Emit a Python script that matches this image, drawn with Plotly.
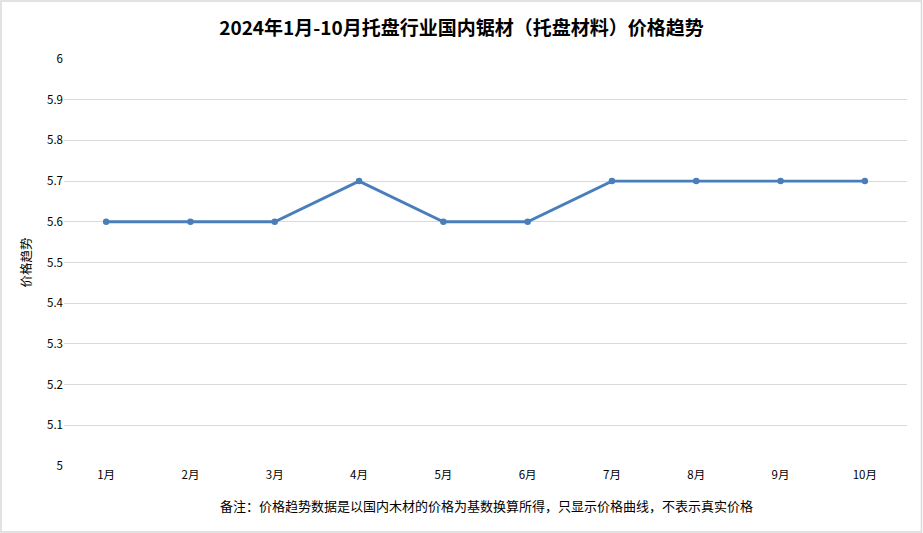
import plotly.graph_objects as go

months = ["1月", "2月", "3月", "4月", "5月", "6月", "7月", "8月", "9月", "10月"]
prices = [5.6, 5.6, 5.6, 5.7, 5.6, 5.6, 5.7, 5.7, 5.7, 5.7]
y_ticks = [5, 5.1, 5.2, 5.3, 5.4, 5.5, 5.6, 5.7, 5.8, 5.9, 6]
y_labels = ["5", "5.1", "5.2", "5.3", "5.4", "5.5", "5.6", "5.7", "5.8", "5.9", "6"]

title_text = "2024年1月-10月托盘行业国内锯材（托盘材料）价格趋势"
note_text = "备注：价格趋势数据是以国内木材的价格为基数换算所得，只显示价格曲线，不表示真实价格"
font = "Noto Sans CJK SC"

fig = go.Figure()
fig.add_trace(go.Scatter(
    x=months, y=prices, mode="lines+markers",
    line=dict(color="#4A7EBB", width=2.9),
    marker=dict(color="#4A7EBB", size=6.5),
    hoverinfo="x+y",
))

fig.update_layout(
    width=923, height=533,
    margin=dict(l=64, r=16, t=59, b=67),
    paper_bgcolor="white", plot_bgcolor="white",
    showlegend=False,
    font=dict(family=font, color="#000000", size=11.5),
    title=dict(text="<b>" + title_text + "</b>", x=0.5, xanchor="center",
               y=1 - 28 / 533, yanchor="middle",
               font=dict(family=font, size=19, color="#000000")),
    xaxis=dict(type="category", range=[-0.5, 9.5], showgrid=False,
               showline=False, ticks="", zeroline=False,
               tickfont=dict(size=11.5)),
    yaxis=dict(range=[5, 6], tickvals=y_ticks, ticktext=y_labels,
               showgrid=True, gridcolor="#D9D9D9", gridwidth=1,
               zeroline=False, showline=False, ticks="", ticklen=0,
               tickfont=dict(size=11.5),
               title=dict(text="价格趋势", font=dict(size=12.5), standoff=12)),
    shapes=[dict(type="rect", xref="paper", yref="paper",
                 x0=-63 / 843, x1=1 + 14.5 / 843,
                 y0=-66 / 407, y1=1 + 58 / 407,
                 line=dict(color="#D9D9D9", width=1.5))],
    annotations=[dict(text=note_text, xref="paper", yref="paper",
                      x=(486 - 64) / 843, y=-(505 - 466) / 407,
                      xanchor="center", yanchor="middle", showarrow=False,
                      font=dict(family=font, size=13, color="#000000"))],
)

fig.write_html(
    "out.html",
    config={"displayModeBar": False},
    post_script="document.body.style.margin='0';document.body.style.overflow='hidden';",
)
